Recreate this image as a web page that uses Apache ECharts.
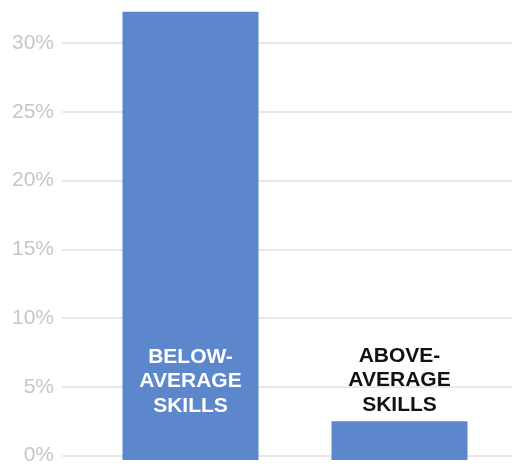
<!DOCTYPE html>
<html>
<head>
<meta charset="utf-8">
<script src="https://cdn.jsdelivr.net/npm/echarts@6/dist/echarts.min.js"></script>
<style>
  html, body { margin: 0; padding: 0; background: #ffffff; }
  #chart { width: 512px; height: 466px; }
</style>
</head>
<body>
<div id="chart"></div>
<script>
  // data
  const categories = ['BELOW-\nAVERAGE\nSKILLS', 'ABOVE-\nAVERAGE\nSKILLS'];
  const shares = [32.3, 2.8];
  const yTicks = [0, 5, 10, 15, 20, 25, 30];
  const yTop = 33; // visible top of the cropped plot

  const C = {
    bar: '#5d87cd',
    grid: '#e2e2e2',
    tick: '#c6c6c6',
    ink: '#111111',
  };

  const chart = echarts.init(document.getElementById('chart'), null, { renderer: 'canvas' });

  const yMin = yTicks[0], yStep = yTicks[1] - yTicks[0];

  chart.setOption({
    backgroundColor: '#ffffff',
    animation: false,
    grid: [
      // gridlines + tick labels
      { left: 62, right: 0, top: 2, bottom: 6 },
      // bars
      { left: 86, right: 8, top: 2, bottom: 6 },
    ],
    xAxis: [
      { type: 'category', gridIndex: 0, data: categories, show: false },
      { type: 'category', gridIndex: 1, data: categories, axisLine: { show: false }, axisTick: { show: false }, axisLabel: { show: false } },
    ],
    yAxis: [
      {
        type: 'value', gridIndex: 0, min: yMin, max: yTop, interval: yStep,
        axisLine: { show: false }, axisTick: { show: false },
        splitLine: { showMaxLine: false, lineStyle: { color: C.grid, width: 1.5 } },
        axisLabel: {
          showMaxLabel: false,
          color: C.tick, fontSize: 21, fontFamily: 'Arial, "Liberation Sans", sans-serif', margin: 8,
          formatter: (v) => (yTicks.includes(v) ? v + '%' : ''),
        },
      },
      { type: 'value', gridIndex: 1, min: yMin, max: yTop, interval: yStep, show: false, splitLine: { show: false } },
    ],
    series: [{
      type: 'bar',
      xAxisIndex: 1,
      yAxisIndex: 1,
      barWidth: 136,
      data: shares.map((v, i) => ({
        value: v,
        label: i === 0
          ? { position: 'insideBottom', distance: 42, color: '#ffffff' }
          : { position: 'top', distance: 4, color: C.ink },
      })),
      itemStyle: { color: C.bar },
      label: {
        show: true,
        formatter: (p) => p.name,
        fontSize: 21,
        fontWeight: 'bold',
        fontFamily: 'Arial, "Liberation Sans", sans-serif',
        lineHeight: 24.5,
        align: 'center',
      },
    }],
  });
</script>
</body>
</html>
